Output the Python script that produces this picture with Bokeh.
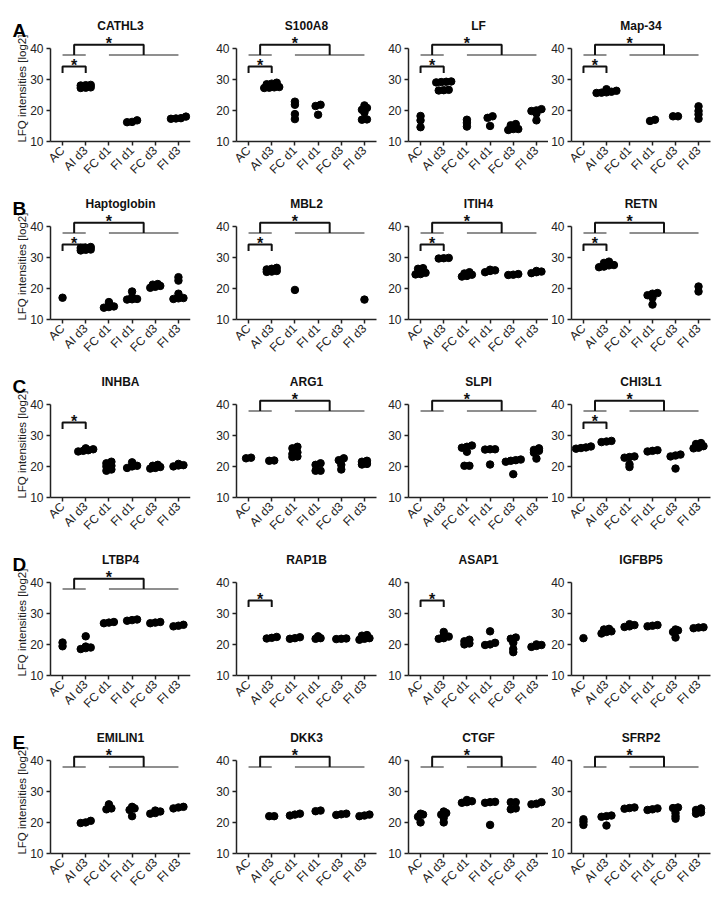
import math
from bokeh.plotting import figure
from bokeh.layouts import column, row
from bokeh.models import FixedTicker, Range1d
from bokeh.embed import file_html
from bokeh.resources import INLINE
from bokeh.core.properties import value

GROUPS = ["AC", "AI d3", "FC d1", "FI d1", "FC d3", "FI d3"]
Y_TICKS = [10, 20, 30, 40]
Y_LABEL = "LFQ intensities [log2]"

# values per group: AC, AI d3, FC d1, FI d1, FC d3, FI d3
CATHL3 = [[], [27.2, 27.3, 27.4, 28.0, 28.1, 28.2], [], [16.2, 16.3, 16.8], [], [17.3, 17.4, 17.5, 18.0]]
S100A8 = [[], [27.2, 27.3, 27.4, 27.5, 28.4, 28.6, 28.9], [22.8, 21.8, 18.8, 17.2], [21.8, 21.4, 18.6], [], [17.0, 17.1, 19.3, 20.2, 20.8, 21.6]]
LF = [[14.6, 16.8, 18.2], [29.0, 29.1, 29.2, 29.3, 26.4, 26.5, 26.6], [14.8, 16.0, 17.0], [15.0, 17.6, 18.1], [13.7, 14.0, 14.0, 15.2, 15.6], [16.8, 19.0, 19.8, 20.0, 20.4]]
MAP34 = [[], [25.6, 25.7, 25.8, 26.0, 26.3, 26.8], [], [16.6, 17.0], [18.1, 18.1], [17.3, 18.7, 19.8, 21.3]]

HAPTOGLOBIN = [[17.0], [32.2, 32.4, 32.5, 33.0, 33.1, 33.3], [13.8, 14.0, 14.2, 14.6, 15.6], [16.4, 16.5, 16.6, 17.2, 19.0], [20.2, 20.5, 20.8, 21.2, 21.4], [16.6, 16.8, 16.9, 18.3, 22.5, 23.6]]
MBL2 = [[], [25.3, 25.4, 25.6, 26.1, 26.3, 26.6], [19.5], [], [], [16.4]]
ITIH4 = [[24.5, 24.6, 25.0, 26.3, 26.5], [29.6, 29.7, 29.8], [23.8, 24.0, 24.4, 24.8, 25.2], [25.2, 25.6, 25.8, 26.0], [24.3, 24.4, 24.6], [24.9, 25.2, 25.4, 25.6]]
RETN = [[], [26.8, 27.0, 27.4, 27.5, 28.2, 28.6], [], [14.8, 17.0, 17.8, 18.3, 18.5], [], [19.0, 20.6]]

INHBA = [[], [24.8, 25.0, 25.2, 25.5, 25.8], [18.6, 19.0, 20.0, 20.2, 21.0, 21.5], [19.5, 20.0, 20.2, 21.3], [19.3, 19.5, 19.8, 20.2, 20.5], [20.0, 20.3, 20.4, 20.8]]
ARG1 = [[22.6, 22.8], [21.8, 21.9], [23.0, 23.2, 24.0, 24.5, 25.8, 26.3], [18.6, 18.6, 20.5, 21.0], [19.0, 20.5, 22.0, 22.6], [20.6, 20.8, 21.5, 21.8]]
SLPI = [[], [], [20.2, 20.2, 24.7, 26.0, 26.3, 26.7], [20.6, 25.4, 25.5, 25.5], [17.5, 21.5, 21.8, 22.0, 22.2], [22.5, 24.4, 25.0, 25.3, 25.8]]
CHI3L1 = [[25.7, 25.9, 26.1, 26.4], [27.8, 28.0, 28.2], [19.8, 20.7, 22.8, 23.0, 23.2], [24.8, 25.0, 25.2], [19.3, 23.2, 23.5, 23.8], [25.8, 26.0, 26.5, 27.2, 27.5]]

LTBP4 = [[19.4, 20.6], [18.5, 18.8, 19.0, 19.3, 22.6], [26.8, 27.0, 27.2], [27.6, 27.8, 28.0], [26.8, 27.0, 27.2], [25.8, 26.0, 26.3]]
RAP1B = [[], [21.9, 22.1, 22.4], [21.8, 22.0, 22.3], [21.8, 22.0, 22.6], [21.7, 21.8, 21.9], [21.5, 21.8, 22.0, 22.8, 23.0]]
ASAP1 = [[], [21.8, 22.0, 22.5, 23.0, 24.0], [20.0, 20.3, 21.0, 21.5], [19.8, 20.0, 20.5, 24.2], [17.5, 18.5, 20.5, 21.8, 22.2], [19.2, 19.5, 19.8, 20.0]]
IGFBP5 = [[22.0], [23.5, 24.0, 24.2, 24.8, 25.0], [25.6, 25.8, 26.2, 26.5], [25.8, 26.0, 26.2], [22.2, 24.0, 24.5, 24.8], [25.2, 25.4, 25.5]]

EMILIN1 = [[], [19.8, 20.0, 20.5], [24.2, 24.5, 25.0, 25.8], [22.0, 24.0, 24.5, 25.0], [22.8, 23.0, 23.5, 23.8], [24.5, 24.8, 25.0]]
DKK3 = [[], [22.0, 22.0], [22.2, 22.5, 22.8], [23.6, 23.8], [22.4, 22.6, 22.8], [22.0, 22.2, 22.5]]
CTGF = [[20.0, 21.8, 22.5, 22.8], [20.0, 21.5, 22.5, 23.0, 23.5], [26.3, 26.5, 26.8, 27.2], [19.2, 26.3, 26.5, 26.6], [24.2, 24.5, 26.5, 26.5], [25.8, 26.0, 26.5]]
SFRP2 = [[19.2, 20.2, 21.0], [19.0, 21.8, 22.0, 22.2], [24.4, 24.6, 24.8], [24.0, 24.2, 24.5], [21.2, 22.0, 23.0, 24.6, 24.8], [22.8, 23.2, 24.0, 24.5]]

ROW_LETTERS = ["A", "B", "C", "D", "E"]
# (title, values, AC-vs-AI d3 bracket, group bracket)
PANELS = [
    [("CATHL3", CATHL3, True, True), ("S100A8", S100A8, True, True), ("LF", LF, True, True), ("Map-34", MAP34, True, True)],
    [("Haptoglobin", HAPTOGLOBIN, True, True), ("MBL2", MBL2, True, True), ("ITIH4", ITIH4, True, True), ("RETN", RETN, True, True)],
    [("INHBA", INHBA, True, False), ("ARG1", ARG1, False, True), ("SLPI", SLPI, False, True), ("CHI3L1", CHI3L1, True, True)],
    [("LTBP4", LTBP4, False, True), ("RAP1B", RAP1B, True, False), ("ASAP1", ASAP1, True, False), ("IGFBP5", IGFBP5, False, False)],
    [("EMILIN1", EMILIN1, False, True), ("DKK3", DKK3, False, True), ("CTGF", CTGF, False, True), ("SFRP2", SFRP2, False, True)],
]

FONT = "Liberation Sans"
TXT = "#222222"
FRAME_W, FRAME_H = 140, 126
X0, X1 = -0.52, 5.52
Y0, Y1 = 10, 50.5
LEFT = [0, 28, 28, 22]
RIGHT = [18, 4, 0, 8]
EXTRA_LEFT = 50          # first column: room for y labels and the panel letter inside the frame
TOP, BOTTOM = 6, 46
PAGE_TOP = 9             # offset of the first row from the page top
PX_X = FRAME_W / (X1 - X0)
PX_Y = FRAME_H / (Y1 - Y0)
DOT = 7.5
BIN = 0.7      # values closer than this share a row
STEP = 5.0     # px between dots in a row

GRAY_Y = 37.8
TOP_BR = 41.1
AC_BR, AC_LEG = 34.1, 32.0
TITLE_Y = 44.5 + 8 / PX_Y
YLABEL_X_PX = 29          # y-label centre, px left of the y axis
YLABEL_Y = 27.0


def swarm(vals):
    order = sorted(range(len(vals)), key=lambda i: vals[i])
    bins, cur = [], []
    for i in order:
        if cur and vals[i] - vals[cur[0]] >= BIN:
            bins.append(cur)
            cur = []
        cur.append(i)
    if cur:
        bins.append(cur)
    offs = [0.0] * len(vals)
    for b in bins:
        n = len(b)
        for k, i in enumerate(b):
            offs[i] = (k - (n - 1) / 2) * STEP / PX_X
    return offs


def make_panel(title, data, ac_br, grp_br, col, rix, letter):
    first = col == 0
    top = TOP + (PAGE_TOP if rix == 0 else 0)
    if first:
        xl = X0 - EXTRA_LEFT / PX_X
        yl = Y0 - BOTTOM / PX_Y
        p = figure(frame_width=FRAME_W + EXTRA_LEFT, frame_height=FRAME_H + BOTTOM,
                   x_range=Range1d(xl, X1), y_range=Range1d(yl, Y1),
                   output_backend="svg", toolbar_location=None,
                   min_border_left=0, min_border_right=RIGHT[col],
                   min_border_top=top, min_border_bottom=0)
    else:
        p = figure(width=LEFT[col] + FRAME_W + RIGHT[col], height=top + FRAME_H + BOTTOM,
                   x_range=Range1d(X0, X1), y_range=Range1d(Y0, Y1),
                   output_backend="svg", toolbar_location=None,
                   min_border_left=LEFT[col], min_border_right=RIGHT[col],
                   min_border_top=top, min_border_bottom=BOTTOM)
    p.grid.visible = False
    p.outline_line_color = None
    p.background_fill_color = "white"
    p.border_fill_color = "white"

    for ax in (p.xaxis[0], p.yaxis[0]):
        ax.axis_line_width = 1.5
        ax.axis_line_color = TXT
        ax.major_tick_line_width = 1.5
        ax.major_tick_line_color = TXT
        ax.major_tick_out = 4
        ax.major_tick_in = 0
        ax.minor_tick_line_color = None
        ax.major_label_text_font = FONT
        ax.major_label_text_font_size = "12px"
        ax.major_label_text_color = TXT
        ax.major_label_standoff = 3
    p.yaxis.ticker = FixedTicker(ticks=Y_TICKS)
    p.yaxis.bounds = (Y_TICKS[0], Y_TICKS[-1])
    p.xaxis.ticker = FixedTicker(ticks=list(range(len(GROUPS))))
    p.xaxis.major_label_overrides = {i: g for i, g in enumerate(GROUPS)}
    p.xaxis.major_label_orientation = math.pi / 4
    p.xaxis.bounds = (X0, X1)
    if first:
        p.yaxis.fixed_location = X0
        p.xaxis.fixed_location = Y0
        p.text([X0 - YLABEL_X_PX / PX_X], [YLABEL_Y], text=[Y_LABEL], text_font=value(FONT),
               text_font_size="11.5px", text_color=TXT, angle=math.pi / 2,
               text_align="center", text_baseline="middle")
        p.text([X0 - 38 / PX_X], [44.5 + 4 / PX_Y], text=[letter], text_font=value(FONT),
               text_font_size="19px", text_font_style="bold", text_color="#000000",
               text_align="left", text_baseline="alphabetic")

    p.text([(len(GROUPS) - 1) / 2], [TITLE_Y], text=[title], text_font=value(FONT),
           text_font_size="12px", text_font_style="bold", text_color="#111111",
           text_align="center", text_baseline="middle")

    gray = "#8f8f8f"
    star_kw = dict(text_font=value(FONT), text_font_size="16px", text_font_style="bold",
                   text_align="center", text_baseline="middle", text_color="#111111")
    if grp_br:
        p.line([0, 1], [GRAY_Y, GRAY_Y], line_color=gray, line_width=2)
        p.line([2, 5], [GRAY_Y, GRAY_Y], line_color=gray, line_width=2)
        p.line([0.5, 0.5, 3.5, 3.5], [GRAY_Y, TOP_BR, TOP_BR, GRAY_Y], line_color="#111111", line_width=2)
        p.text([2.0], [TOP_BR + 0.4], text=["*"], **star_kw)
    if ac_br:
        p.line([0, 0, 1, 1], [AC_LEG, AC_BR, AC_BR, AC_LEG], line_color="#111111", line_width=2)
        p.text([0.5], [AC_BR + 0.4], text=["*"], **star_kw)

    xs, ys = [], []
    for gi, vals in enumerate(data):
        if not vals:
            continue
        offs = swarm(vals)
        xs += [gi + o for o in offs]
        ys += list(vals)
    p.scatter(xs, ys, size=DOT, color="#000000")
    return p


rows = []
for ri, prow in enumerate(PANELS):
    figs = [make_panel(t, d, a, g, ci, ri, ROW_LETTERS[ri]) for ci, (t, d, a, g) in enumerate(prow)]
    rows.append(row(*figs))
layout = column(*rows)

open("out.html", "w").write(file_html(layout, INLINE))
